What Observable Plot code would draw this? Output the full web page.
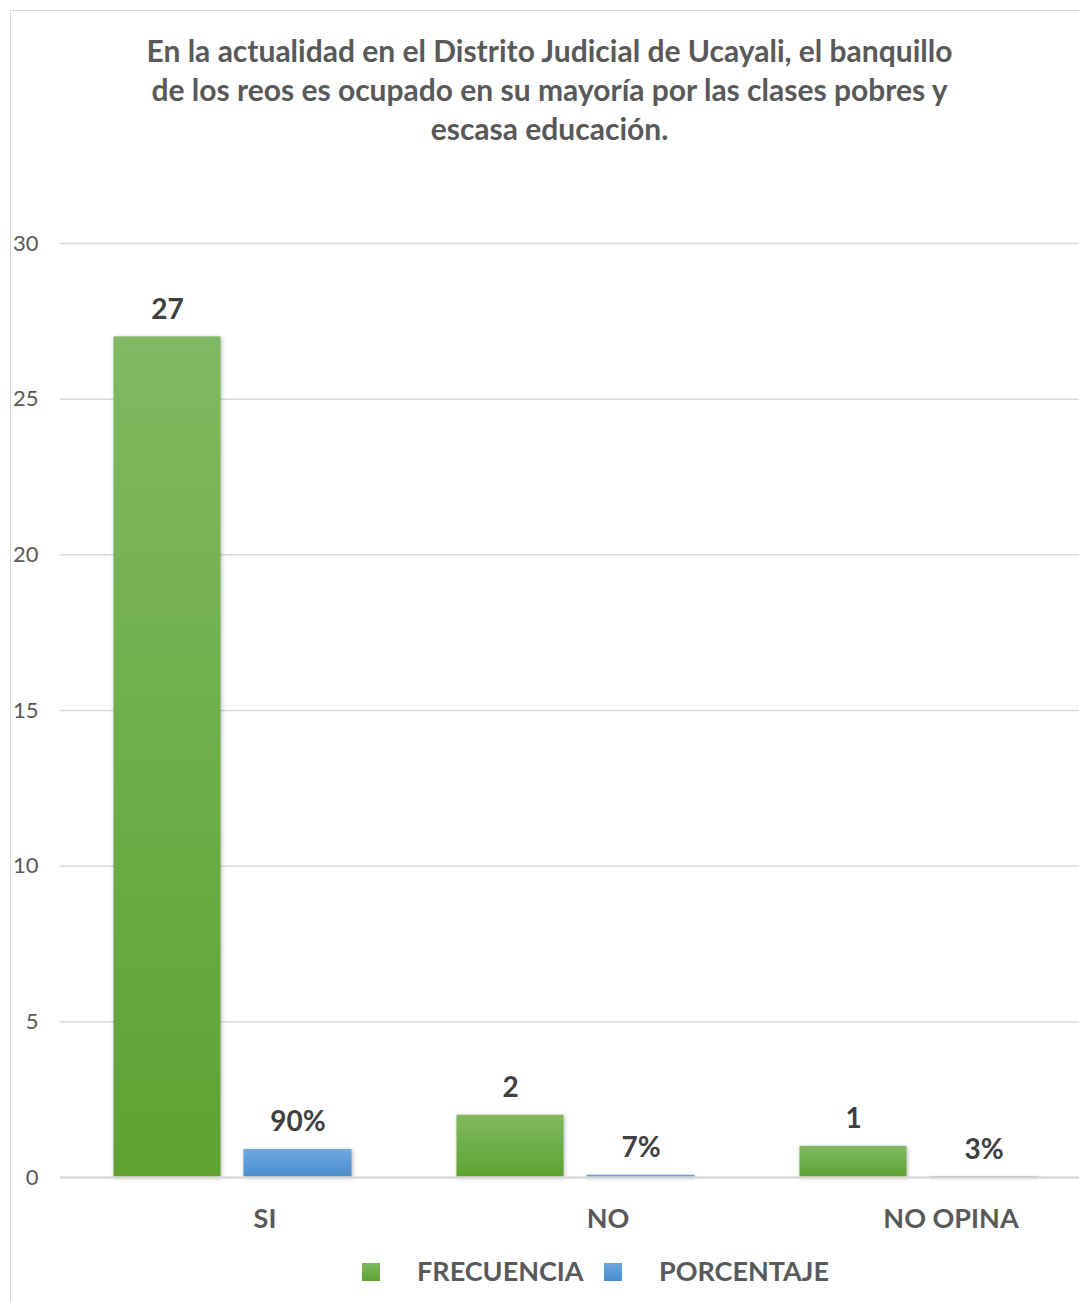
<!DOCTYPE html>
<html>
<head>
<meta charset="utf-8">
<script src="https://cdn.jsdelivr.net/npm/d3@7"></script>
<script src="https://cdn.jsdelivr.net/npm/@observablehq/plot@0.6"></script>
<style>
  html, body { margin: 0; padding: 0; background: #fff; overflow: hidden; width: 1079px; height: 1301px; }
  body { font-family: Lato, "Open Sans", sans-serif; position: relative; }
  #frame { position: absolute; left: 10px; top: 10px; width: 1200px; height: 1400px; border: 1.5px solid #d9d9d9; box-sizing: border-box; }
  #title { position: absolute; left: 0; width: 1099px; top: 31px; text-align: center; font-weight: bold; font-size: 30px; line-height: 39px; color: #595959; }
  #chart { position: absolute; left: 0; top: 0; }
  #legend { position: absolute; top: 1253px; left: 0; width: 1079px; height: 36px; }
  .sw { position: absolute; top: 10px; width: 18px; height: 18px; }
  .lt { position: absolute; top: 0; font-weight: bold; font-size: 27px; line-height: 36px; color: #595959; }
  .bars rect { filter: drop-shadow(1px 1px 2px rgba(0,0,0,0.28)); }
</style>
</head>
<body>
<div id="frame"></div>
<div id="chart"></div>
<div id="title">En la actualidad en el Distrito Judicial de Ucayali, el banquillo<br>de los reos es ocupado en su mayoría por las clases pobres y<br>escasa educación.</div>
<div id="legend">
  <div class="sw" style="left:362px;background:linear-gradient(#7fb95f,#5fa232)"></div>
  <div class="lt" style="left:417px">FRECUENCIA</div>
  <div class="sw" style="left:604px;background:linear-gradient(#6fa8de,#4a8ccf)"></div>
  <div class="lt" style="left:659px">PORCENTAJE</div>
</div>
<script>
const categories = ["SI", "NO", "NO OPINA"];
const frecuencia = [27, 2, 1];
const porcentaje = [0.90, 0.07, 0.03];
const porcentajeLabels = ["90%", "7%", "3%"];
const yTicks = [0, 5, 10, 15, 20, 25, 30];

const rows = categories.map((c, i) => ({
  categoria: c,
  frecuencia: frecuencia[i],
  porcentaje: porcentaje[i],
  pctLabel: porcentajeLabels[i]
}));

const W = 1079, H = 1240;
const chart = Plot.plot({
  width: W,
  height: H,
  marginLeft: 60,
  marginRight: 0,
  marginTop: 243,
  marginBottom: 63,
  style: { fontFamily: "Lato, 'Open Sans', sans-serif", color: "#595959", background: "transparent", overflow: "visible" },
  x: { domain: categories, range: [60.5, 1089.5], padding: 0 },
  y: { domain: [0, 30] },
  marks: [
    Plot.ruleY(yTicks.filter(d => d > 0), { stroke: "#d9d9d9", strokeWidth: 1.5 }),
    Plot.barY(rows, { x: "categoria", y: "frecuencia", fill: "url(#gGreen)", insetLeft: 52.5, insetRight: 183.5, className: "bars" }),
    Plot.barY(rows, { x: "categoria", y: "porcentaje", fill: "url(#gBlue)", insetLeft: 182.5, insetRight: 52.5, className: "bars" }),
    Plot.ruleY([0], { stroke: "#d9d9d9", strokeWidth: 2.5 }),
    Plot.text(rows, { x: "categoria", y: "frecuencia", text: d => String(d.frecuencia), dx: -65.5, dy: -18, lineAnchor: "bottom", fontSize: 28, fontWeight: "bold", fill: "#404040" }),
    Plot.text(rows, { x: "categoria", y: "porcentaje", text: "pctLabel", dx: 65, dy: -18, lineAnchor: "bottom", fontSize: 28, fontWeight: "bold", fill: "#404040" }),
    Plot.axisY({ ticks: yTicks, tickSize: 0, tickPadding: 22, fontSize: 22, label: null }),
    Plot.axisX({ tickSize: 0, tickPadding: 31, fontSize: 27, fontWeight: "bold", dx: 32, label: null })
  ]
});

// gradients for bar fills
const ns = "http://www.w3.org/2000/svg";
const defs = document.createElementNS(ns, "defs");
function grad(id, top, bottom) {
  const g = document.createElementNS(ns, "linearGradient");
  g.setAttribute("id", id);
  g.setAttribute("x1", "0"); g.setAttribute("y1", "0");
  g.setAttribute("x2", "0"); g.setAttribute("y2", "1");
  [[0, top], [1, bottom]].forEach(([o, c]) => {
    const s = document.createElementNS(ns, "stop");
    s.setAttribute("offset", o);
    s.setAttribute("stop-color", c);
    g.appendChild(s);
  });
  defs.appendChild(g);
}
grad("gGreen", "#80b961", "#5fa232");
grad("gBlue", "#6fa8de", "#4a8ccf");
chart.insertBefore(defs, chart.firstChild);

document.getElementById("chart").appendChild(chart);
</script>
</body>
</html>
